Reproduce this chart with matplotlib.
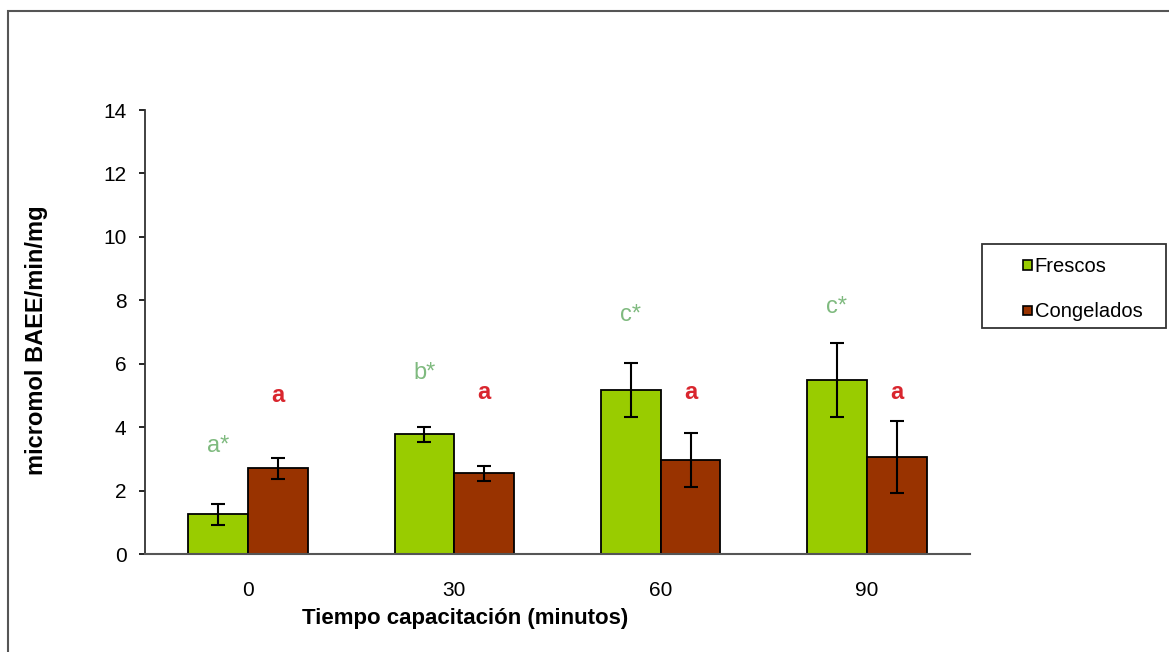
import matplotlib
matplotlib.use("Agg")
import matplotlib.pyplot as plt
import numpy as np
from matplotlib.patches import Rectangle
from matplotlib.legend_handler import HandlerPatch

plt.rcParams['font.family'] = ['Liberation Sans', 'DejaVu Sans']

categories = ["0", "30", "60", "90"]
series_names = ["Frescos", "Congelados"]
frescos = [1.25, 3.77, 5.17, 5.48]
frescos_err = [0.33, 0.24, 0.84, 1.16]
congelados = [2.70, 2.54, 2.95, 3.06]
congelados_err = [0.32, 0.24, 0.85, 1.13]
frescos_letters = ["a*", "b*", "c*", "c*"]
frescos_letter_y = [3.40, 5.70, 7.55, 7.80]
congelados_letters = ["a", "a", "a", "a"]
congelados_letter_y = [5.0, 5.1, 5.1, 5.1]

W, H = 1169, 652
fig = plt.figure(figsize=(W / 100, H / 100), dpi=100)
fig.patch.set_facecolor("white")

# outer frame (extends beyond the image on the right and bottom)
fig.patches.append(Rectangle((8 / W, -0.2), 2.0, 1 - 11 / H + 0.2,
                             transform=fig.transFigure, fill=False,
                             edgecolor="#555555", linewidth=1.5))

ax = fig.add_axes([145 / W, 1 - 554 / H, (970 - 145) / W, (554 - 110) / H])

x = np.arange(len(categories))
bw = 0.29
green = "#99cc00"
brown = "#993300"
b1 = ax.bar(x - bw / 2, frescos, bw, color=green, edgecolor="black", linewidth=1.3,
            label=series_names[0], zorder=2)
b2 = ax.bar(x + bw / 2, congelados, bw, color=brown, edgecolor="black", linewidth=1.3,
            label=series_names[1], zorder=2)
ax.errorbar(x - bw / 2, frescos, yerr=frescos_err, fmt="none", ecolor="black",
            elinewidth=1.5, capsize=4.7, capthick=1.5, zorder=3)
ax.errorbar(x + bw / 2, congelados, yerr=congelados_err, fmt="none", ecolor="black",
            elinewidth=1.5, capsize=4.7, capthick=1.5, zorder=3)

for i in range(len(categories)):
    ax.text(x[i] - bw / 2, frescos_letter_y[i], frescos_letters[i], color="#7fba7f",
            fontsize=17, ha="center", va="center")
    ax.text(x[i] + bw / 2, congelados_letter_y[i], congelados_letters[i], color="#d9262e",
            fontsize=17, fontweight="bold", ha="center", va="center")

ax.set_xlim(-0.5, len(categories) - 0.5)
ax.set_ylim(0, 14)
ax.set_yticks(np.arange(0, 15, 2))
ax.set_xticks(x)
ax.set_xticklabels(categories)
ax.tick_params(axis="y", length=4.3, width=1.2, pad=9, labelsize=15, direction="out")
ax.tick_params(axis="x", length=0, pad=19.5, labelsize=15)
for s in ["top", "right"]:
    ax.spines[s].set_visible(False)
ax.spines["left"].set_linewidth(1.3)
ax.spines["left"].set_color("#333333")
ax.spines["bottom"].set_linewidth(1.5)
ax.spines["bottom"].set_color("#555555")

ax.set_xlabel("Tiempo capacitación (minutos)", fontsize=16, fontweight="bold", va="top")
ax.xaxis.set_label_coords((465 - 145) / 825, -(608 - 554) / 444)
ax.set_ylabel("micromol BAEE/min/mg", fontsize=17, fontweight="bold", va="center", ha="center")
ax.yaxis.set_label_coords((37 - 145) / 825, (554 - 340) / 444)


def small_square(legend, orig_handle, xdescent, ydescent, width, height, fontsize):
    s = 0.46 * fontsize
    return Rectangle((width - s - xdescent, (height - s) / 2 - ydescent), s, s)


h1, h2 = b1.patches[0], b2.patches[0]
leg = fig.legend(handles=[h1, h2], labels=series_names, loc="upper left",
                 bbox_to_anchor=(1012 / W, 1 - 247 / H), frameon=False, fontsize=14.5,
                 borderpad=0, handlelength=0.5, handleheight=0.7, handletextpad=0.12,
                 labelspacing=1.3,
                 handler_map={h1: HandlerPatch(patch_func=small_square),
                              h2: HandlerPatch(patch_func=small_square)})
for p in leg.get_patches():
    p.set_linewidth(1.2)
fig.patches.append(Rectangle((982 / W, 1 - 328 / H), (1166 - 982) / W, (328 - 244) / H,
                             transform=fig.transFigure, fill=False,
                             edgecolor="#333333", linewidth=1.3))

fig.savefig("out.png", dpi=100, facecolor="white")
